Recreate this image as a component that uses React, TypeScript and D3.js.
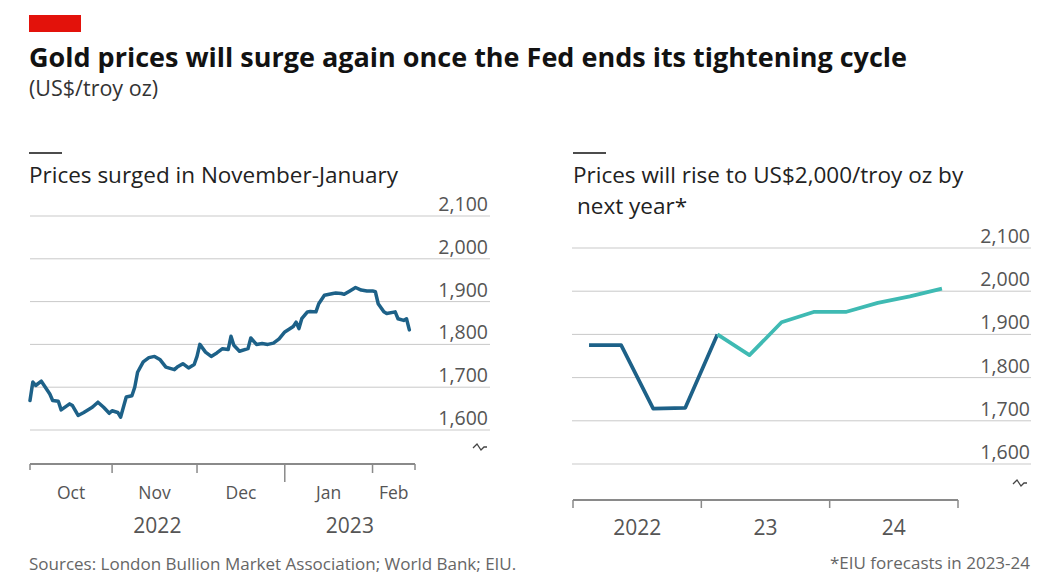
import React from "react";
import * as d3 from "d3";

// ---------- data ----------
const dailyDates = [
  "2022-10-03","2022-10-04","2022-10-05","2022-10-07","2022-10-10","2022-10-11","2022-10-13","2022-10-14",
  "2022-10-17","2022-10-18","2022-10-20","2022-10-22","2022-10-25","2022-10-27","2022-10-29","2022-10-31",
  "2022-11-01","2022-11-03","2022-11-04","2022-11-06","2022-11-08","2022-11-09","2022-11-10","2022-11-12",
  "2022-11-14","2022-11-16","2022-11-18","2022-11-20","2022-11-23","2022-11-24","2022-11-26","2022-11-28",
  "2022-11-30","2022-12-01","2022-12-02","2022-12-04","2022-12-06","2022-12-08","2022-12-10","2022-12-12",
  "2022-12-13","2022-12-14","2022-12-16","2022-12-19","2022-12-20","2022-12-22","2022-12-24","2022-12-26",
  "2022-12-28","2022-12-30","2023-01-01","2023-01-04","2023-01-05","2023-01-06","2023-01-07","2023-01-09",
  "2023-01-10","2023-01-12","2023-01-13","2023-01-15","2023-01-18","2023-01-19","2023-01-21","2023-01-22",
  "2023-01-24","2023-01-26","2023-01-28","2023-01-30","2023-02-01","2023-02-02","2023-02-03","2023-02-05",
  "2023-02-06","2023-02-09","2023-02-10","2023-02-12","2023-02-13","2023-02-14"
];
const dailyPrices = [
  1669,1712,1704,1714,1684,1669,1667,1647,
  1661,1657,1634,1641,1653,1665,1653,1639,
  1645,1641,1630,1677,1680,1700,1735,1759,
  1769,1772,1764,1747,1741,1747,1755,1745,
  1753,1772,1800,1782,1772,1780,1790,1788,
  1819,1798,1784,1790,1815,1800,1802,1800,
  1803,1813,1829,1842,1852,1837,1860,1876,
  1877,1876,1895,1915,1919,1920,1919,1917,
  1925,1933,1927,1925,1925,1923,1895,1876,
  1872,1876,1860,1856,1860,1834
];

const quarters = ["2022Q1","2022Q2","2022Q3","2022Q4","2023Q1","2023Q2","2023Q3","2023Q4","2024Q1","2024Q2","2024Q3","2024Q4"];
const quarterlyPrices = [1875,1875,1728,1730,1900,1852,1928,1952,1952,1973,1988,2006];
const forecastStartIndex = 4; // first forecast quarter (2023Q1)

const yTicks = [1600, 1700, 1800, 1900, 2000, 2100];
const monthTickDates = ["2022-10-03","2022-11-01","2022-12-01","2023-01-01","2023-02-01","2023-02-16"];
const monthLabels = ["Oct","Nov","Dec","Jan","Feb"];
const leftYearLabels = ["2022","2023"];
const rightYears = [2022, 2023, 2024, 2025];
const rightYearLabels = ["2022","23","24"];

const title = "Gold prices will surge again once the Fed ends its tightening cycle";
const subtitle = "(US$/troy oz)";
const leftHeading = "Prices surged in November-January";
const rightHeading1 = "Prices will rise to US$2,000/troy oz by";
const rightHeading2 = "next year*";
const sourceText = "Sources: London Bullion Market Association; World Bank; EIU.";
const noteText = "*EIU forecasts in 2023-24";

// ---------- styles ----------
const FONT = "'Open Sans', 'Noto Sans', sans-serif";
const DARK = "#1d6188";
const TEAL = "#3fbab3";
const GRID = "#c9c9c9";
const AXIS = "#8a8a8a";
const TICKTXT = "#555";

const fmt = d3.format(",");
const parse = d3.timeParse("%Y-%m-%d");

function BreakMark({ x, y }: { x: number; y: number }) {
  return (
    <path
      d={`M${x - 7},${y + 1} L${x - 3},${y - 3} L${x + 1},${y + 3} L${x + 4},${y} L${x + 7},${y}`}
      fill="none"
      stroke="#444"
      strokeWidth={1.3}
    />
  );
}

export default function App() {
  const W = 1037;
  const H = 578;

  // left chart scales
  const xL = d3
    .scaleTime()
    .domain([parse("2022-10-03")!, parse("2023-02-16")!])
    .range([30, 415]);
  const yL = d3.scaleLinear().domain([1600, 2100]).range([430, 216]);
  const leftData = dailyDates.map((d, i) => ({ date: parse(d)!, v: dailyPrices[i] }));
  const lineL = d3
    .line<{ date: Date; v: number }>()
    .x((d) => xL(d.date))
    .y((d) => yL(d.v));

  // right chart scales
  const xR = d3.scaleLinear().domain([2022, 2025]).range([573, 958]);
  const yR = d3.scaleLinear().domain([1600, 2100]).range([464, 248]);
  const rightData = quarters.map((q, i) => {
    const yr = +q.slice(0, 4);
    const qn = +q.slice(5);
    return { t: yr + (qn - 0.5) / 4, v: quarterlyPrices[i] };
  });
  const lineR = d3
    .line<{ t: number; v: number }>()
    .x((d) => xR(d.t))
    .y((d) => yR(d.v));
  const actual = rightData.slice(0, forecastStartIndex + 1);
  const forecast = rightData.slice(forecastStartIndex);

  const monthTicks = monthTickDates.map((d) => xL(parse(d)!));
  const leftAxisY = 464;
  const rightAxisY = 500;

  return (
    <svg width={W} height={H} style={{ position: "absolute", left: 0, top: 0, background: "#fff" }} fontFamily={FONT}>
      <rect x={0} y={0} width={W} height={H} fill="#fff" />
      <rect x={29} y={15} width={52} height={17} fill="#e3120b" />
      <text x={29} y={67} fontSize={27} fontWeight={700} fill="#121212">{title}</text>
      <text x={29} y={96} fontSize={21.5} fill="#333">{subtitle}</text>

      {/* Left panel */}
      <line x1={29} x2={62} y1={153} y2={153} stroke="#111" strokeWidth={1.5} />
      <text x={29} y={183} fontSize={22.5} fill="#222">{leftHeading}</text>
      {yTicks.map((t) => (
        <g key={"lg" + t}>
          <line x1={30} x2={490} y1={yL(t)} y2={yL(t)} stroke={GRID} strokeWidth={1} />
          <text x={488} y={yL(t) - 5} textAnchor="end" fontSize={19.5} fill={TICKTXT}>{fmt(t)}</text>
        </g>
      ))}
      <BreakMark x={480} y={447} />
      <path d={lineL(leftData) || ""} fill="none" stroke={DARK} strokeWidth={3.5} strokeLinejoin="round" strokeLinecap="round" />
      <line x1={monthTicks[0]} x2={monthTicks[monthTicks.length - 1]} y1={leftAxisY} y2={leftAxisY} stroke={AXIS} strokeWidth={2} />
      {monthTicks.map((x, i) => {
        const isYear = i === 3;
        const isEnd = i === 0 || i === monthTicks.length - 1;
        return (
          <line key={"mt" + i} x1={x} x2={x} y1={leftAxisY} y2={leftAxisY + (isYear ? 18 : isEnd ? 6 : 9)} stroke={AXIS} strokeWidth={1.5} />
        );
      })}
      {monthLabels.map((m, i) => (
        <text key={"ml" + m} x={(monthTicks[i] + monthTicks[i + 1]) / 2} y={499} textAnchor="middle" fontSize={17.5} fill={TICKTXT}>{m}</text>
      ))}
      <text x={(monthTicks[0] + monthTicks[3]) / 2} y={533} textAnchor="middle" fontSize={21} fill={TICKTXT}>{leftYearLabels[0]}</text>
      <text x={(monthTicks[3] + monthTicks[5]) / 2} y={533} textAnchor="middle" fontSize={21} fill={TICKTXT}>{leftYearLabels[1]}</text>

      {/* Right panel */}
      <line x1={573} x2={606} y1={153} y2={153} stroke="#111" strokeWidth={1.5} />
      <text x={573} y={183} fontSize={22.5} fill="#222">{rightHeading1}</text>
      <text x={577} y={214} fontSize={22.5} fill="#222">{rightHeading2}</text>
      {yTicks.map((t) => (
        <g key={"rg" + t}>
          <line x1={572} x2={1031} y1={yR(t)} y2={yR(t)} stroke={GRID} strokeWidth={1} />
          <text x={1030} y={yR(t) - 5} textAnchor="end" fontSize={19.5} fill={TICKTXT}>{fmt(t)}</text>
        </g>
      ))}
      <BreakMark x={1020} y={483} />
      <path d={lineR(actual) || ""} fill="none" stroke={DARK} strokeWidth={3.7} strokeLinejoin="round" />
      <path d={lineR(forecast) || ""} fill="none" stroke={TEAL} strokeWidth={3.7} strokeLinejoin="round" />
      <line x1={xR(2022)} x2={xR(2025)} y1={rightAxisY} y2={rightAxisY} stroke={AXIS} strokeWidth={2} />
      {rightYears.map((yr) => (
        <line key={"rt" + yr} x1={xR(yr)} x2={xR(yr)} y1={rightAxisY} y2={rightAxisY + 8} stroke={AXIS} strokeWidth={1.5} />
      ))}
      {rightYearLabels.map((l, i) => (
        <text key={"rl" + l} x={xR(rightYears[i] + 0.5)} y={535} textAnchor="middle" fontSize={21} fill={TICKTXT}>{l}</text>
      ))}

      <text x={29} y={570} fontSize={17} fill="#666">{sourceText}</text>
      <text x={1030} y={569} textAnchor="end" fontSize={17} fill="#666">{noteText}</text>
    </svg>
  );
}
